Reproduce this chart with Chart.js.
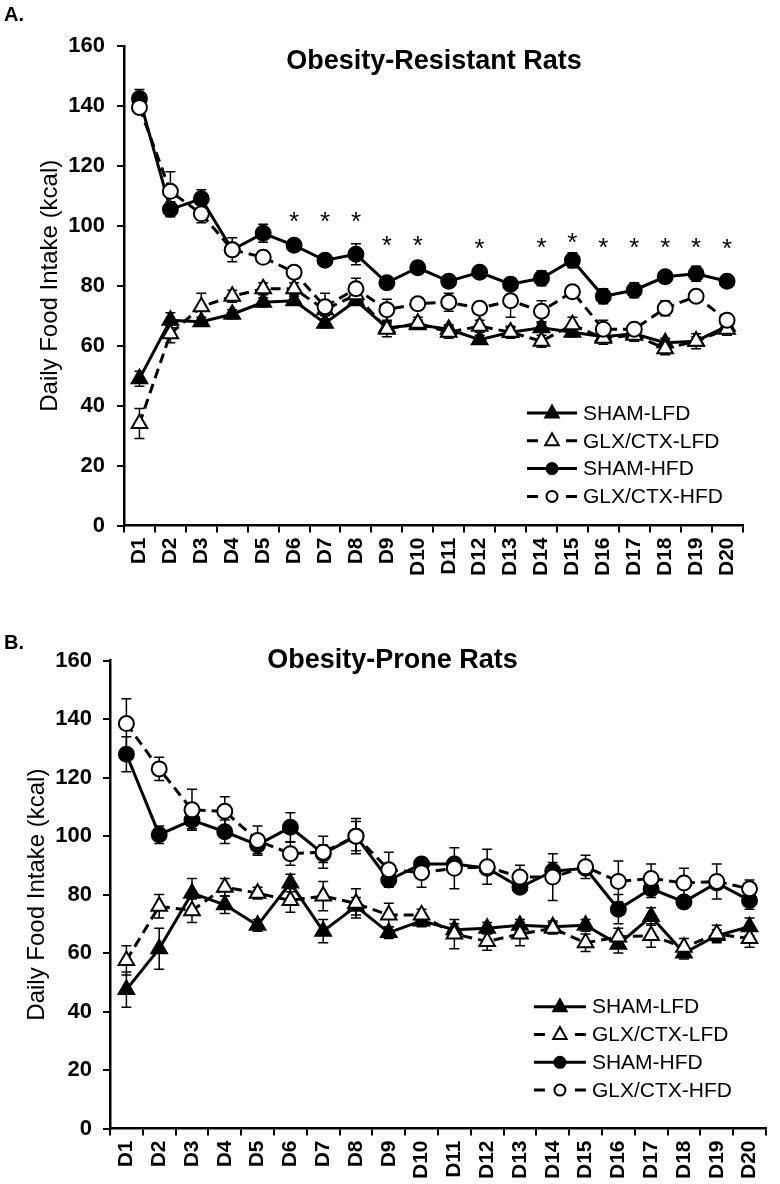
<!DOCTYPE html>
<html><head><meta charset="utf-8">
<script src="https://cdn.jsdelivr.net/npm/chart.js@4.4.1/dist/chart.umd.min.js"></script>
<style>
html,body{margin:0;padding:0;background:#fff;}
#wrap{position:relative;width:780px;height:1184px;overflow:hidden;background:#fff;}
.panel{position:absolute;left:0;width:780px;height:592px;}
</style></head><body>
<div id="wrap">
<div class="panel" style="top:0"><canvas id="cA" width="780" height="592"></canvas></div>
<div class="panel" style="top:592px"><canvas id="cB" width="780" height="592"></canvas></div>
</div>
<script>
const days = ['D1','D2','D3','D4','D5','D6','D7','D8','D9','D10','D11','D12','D13','D14','D15','D16','D17','D18','D19','D20'];
const seriesNames = ['SHAM-LFD','GLX/CTX-LFD','SHAM-HFD','GLX/CTX-HFD'];
const yTicks = {min:0, max:160, step:20};

// Panel A: Obesity-Resistant Rats
const A_shamLFD = [49, 68.5, 68, 70.5, 74.5, 75, 67.5, 75, 66, 67, 65.5, 62, 64.5, 66, 64.5, 63, 64, 61, 61.5, 66.5];
const A_glxLFD  = [34, 64, 73, 76.5, 79, 79, 72, 77, 65.5, 67.5, 64.5, 66.5, 64.5, 61.5, 67, 62.5, 63.5, 59, 61.5, 65.5];
const A_shamHFD = [142.5, 105.5, 109, 92, 97.5, 93.5, 88.5, 90.5, 81, 86, 81.5, 84.5, 80.5, 82.5, 88.5, 76.5, 78.5, 83, 84, 81.5];
const A_glxHFD  = [139.5, 111.5, 104, 92, 89.5, 84.5, 73, 79, 72, 74, 74.5, 72.5, 75, 71.5, 78, 65.5, 65.5, 72.5, 76.5, 68.5];
const A_shamLFD_err = [2.5, 2.5, 1.5, 1.5, 1.5, 1.5, 1.5, 1.5, 1.5, 1.5, 1.5, 1.5, 1.5, 1.5, 1.5, 1.5, 1.5, 1.5, 1.5, 1.5];
const A_glxLFD_err  = [5, 3, 4.5, 2, 2, 2, 2, 2, 2.5, 2, 2, 2, 2, 2, 2.5, 2, 2, 2, 2.5, 2];
const A_shamHFD_err = [3, 2.5, 3, 2, 3, 2, 2, 3.5, 2, 2, 2, 2, 2, 2.5, 2.5, 2.5, 2.5, 2, 2.5, 2];
const A_glxHFD_err  = [2, 6.5, 3, 4, 2, 2, 4.5, 3.5, 3.5, 2, 3, 2, 5.5, 3.5, 2, 3, 2, 2.5, 2, 2];
const A_sigDays = ['D6','D7','D8','D9','D10','D12','D14','D15','D16','D17','D18','D19','D20'];
const A_sigVals = [103.5, 103.5, 103.5, 95.5, 95.5, 94.5, 95, 96.5, 95, 95, 95, 95, 94.5];

// Panel B: Obesity-Prone Rats
const B_shamLFD = [47.5, 61.5, 80.5, 76.5, 69.5, 84, 67.5, 76, 67, 71, 68, 68.5, 69.5, 69, 69.5, 63, 72.5, 60, 66, 69];
const B_glxLFD  = [57.5, 76, 74.5, 82.5, 80.5, 78, 79.5, 77, 73, 73, 66.5, 64, 66.5, 68.5, 63.5, 65.5, 66, 62, 66.5, 65];
const B_shamHFD = [128, 100.5, 105.5, 101.5, 97, 103, 94, 100, 85, 90.5, 90.5, 89, 82.5, 88, 89, 75, 82, 77.5, 84, 78];
const B_glxHFD  = [138.5, 123, 109, 108.5, 98.5, 94, 94.5, 100, 88.5, 87.5, 89, 89.5, 86, 86, 89.5, 84.5, 85.5, 84, 84.5, 82];
const B_shamLFD_err = [6, 7, 5, 3, 2, 3, 4, 3, 2, 2, 2, 2, 2, 2, 2, 3, 3, 2, 2, 3];
const B_glxLFD_err  = [5, 4, 4, 3, 2, 4, 5, 5, 4, 2, 5, 3, 4, 2, 3, 3, 4, 3, 3, 3];
const B_shamHFD_err = [6, 3, 3, 4, 3, 5, 3, 5, 2, 2, 2, 2, 2, 3, 2, 5, 3, 2, 2, 3];
const B_glxHFD_err  = [8.5, 4, 7, 5, 5, 4, 5.5, 6, 6, 5, 7, 6, 4, 8, 4, 7, 5, 5, 6, 3];

const FF = "'Liberation Sans', Arial, Helvetica, sans-serif";
const DASH = [10, 6];

const styles = [
  {pointStyle:'triangle', fill:'#000', dash:[], radius:9, order:3},
  {pointStyle:'triangle', fill:'#fff', dash:DASH, radius:9, order:2},
  {pointStyle:'circle', fill:'#000', dash:[], radius:7.5, order:1},
  {pointStyle:'circle', fill:'#fff', dash:DASH, radius:7.5, order:0}
];

function makeDatasets(vals, errs) {
  return vals.map((v, i) => ({
    label: seriesNames[i],
    data: v,
    errors: errs[i],
    borderColor: '#000',
    borderWidth: 3,
    borderDash: styles[i].dash,
    pointStyle: styles[i].pointStyle,
    pointRadius: styles[i].radius,
    pointHoverRadius: styles[i].radius,
    pointBackgroundColor: styles[i].fill,
    pointBorderColor: '#000',
    pointBorderWidth: 2,
    fill: false,
    tension: 0,
    order: styles[i].order
  }));
}

function drawMarker(ctx, style, fill, x, y, r) {
  ctx.save();
  ctx.setLineDash([]);
  ctx.fillStyle = fill;
  ctx.strokeStyle = '#000';
  ctx.lineWidth = 2;
  ctx.beginPath();
  if (style === 'triangle') {
    ctx.moveTo(x, y - r);
    ctx.lineTo(x + r * 0.9, y + r * 0.6);
    ctx.lineTo(x - r * 0.9, y + r * 0.6);
    ctx.closePath();
  } else {
    ctx.arc(x, y, r, 0, Math.PI * 2);
  }
  ctx.fill();
  ctx.stroke();
  ctx.restore();
}

const extras = {
  id: 'extras',
  beforeDatasetsDraw(chart) {
    const ctx = chart.ctx, ys = chart.scales.y;
    ctx.save();
    ctx.strokeStyle = '#000';
    ctx.lineWidth = 1.5;
    chart.data.datasets.forEach((d, i) => {
      const meta = chart.getDatasetMeta(i);
      meta.data.forEach((pt, j) => {
        const e = d.errors[j];
        if (!e) return;
        const yt = ys.getPixelForValue(d.data[j] + e);
        const yb = ys.getPixelForValue(d.data[j] - e);
        ctx.beginPath();
        ctx.moveTo(pt.x, yt); ctx.lineTo(pt.x, yb);
        ctx.moveTo(pt.x - 5, yt); ctx.lineTo(pt.x + 5, yt);
        ctx.moveTo(pt.x - 5, yb); ctx.lineTo(pt.x + 5, yb);
        ctx.stroke();
      });
    });
    ctx.restore();
  },
  afterDraw(chart) {
    const o = chart.options.plugins.extras;
    const ctx = chart.ctx, ca = chart.chartArea;
    ctx.save();
    ctx.fillStyle = '#000';
    ctx.font = 'bold 20px ' + FF;
    ctx.textAlign = 'left';
    ctx.textBaseline = 'alphabetic';
    ctx.fillText(o.letter, o.letterX, o.letterY);
    ctx.font = 'bold 27px ' + FF;
    ctx.textAlign = 'center';
    ctx.fillText(o.title, o.titleX, o.titleY);
    if (o.sigDays) {
      ctx.font = '26px ' + FF;
      o.sigDays.forEach((d, k) => {
        const x = chart.scales.x.getPixelForValue(days.indexOf(d));
        const y = chart.scales.y.getPixelForValue(o.sigVals[k]);
        ctx.fillText('*', x, y + 0.58 * 26);
      });
    }
    const lg = o.legend;
    chart.data.datasets.forEach((d, i) => {
      const x0 = ca.right + lg.x;
      const y = ca.bottom + lg.y + i * lg.dy;
      ctx.save();
      ctx.strokeStyle = '#000';
      ctx.lineWidth = 3;
      ctx.beginPath();
      if (d.borderDash && d.borderDash.length) {
        ctx.moveTo(x0, y); ctx.lineTo(x0 + 11, y);
        ctx.moveTo(x0 + lg.w - 11, y); ctx.lineTo(x0 + lg.w, y);
      } else {
        ctx.moveTo(x0, y); ctx.lineTo(x0 + lg.w, y);
      }
      ctx.stroke();
      ctx.restore();
      drawMarker(ctx, d.pointStyle, d.pointBackgroundColor, x0 + lg.w / 2, y, d.pointStyle === 'triangle' ? 7.5 : 5.5);
      ctx.fillStyle = '#000';
      ctx.font = '21px ' + FF;
      ctx.textAlign = 'left';
      ctx.textBaseline = 'middle';
      ctx.fillText(d.label, x0 + lg.w + 6, y + 1);
    });
    ctx.restore();
  }
};

function makeChart(id, datasets, cfg) {
  return new Chart(document.getElementById(id), {
    type: 'line',
    data: {labels: days, datasets: datasets},
    plugins: [extras],
    options: {
      responsive: false,
      animation: false,
      events: [],
      layout: {padding: {top: cfg.padTop, right: cfg.padRight, left: 0, bottom: 0}},
      plugins: {
        legend: {display: false},
        tooltip: {enabled: false},
        title: {display: false},
        extras: cfg.extras
      },
      scales: {
        x: {
          type: 'category',
          offset: true,
          grid: {offset: true, drawOnChartArea: false, drawTicks: true, tickLength: 7, color: '#000', lineWidth: 2},
          border: {display: true, color: '#000', width: 2.5},
          ticks: {autoSkip: false, minRotation: 90, maxRotation: 90, color: '#000', padding: 5,
                  font: {family: FF, size: 21, weight: 'bold'}},
          afterFit: s => { s.height = cfg.xHeight; }
        },
        y: {
          min: yTicks.min, max: yTicks.max,
          grid: {drawOnChartArea: false, drawTicks: true, tickLength: 7, color: '#000', lineWidth: 2},
          border: {display: true, color: '#000', width: 2.5},
          ticks: {stepSize: yTicks.step, color: '#000', padding: cfg.yTickPad,
                  font: {family: FF, size: 22, weight: 'bold'}},
          title: {display: true, text: 'Daily Food Intake (kcal)', color: '#000',
                  font: {family: FF, size: 24, weight: 'normal', lineHeight: 1.2},
                  padding: {top: cfg.yTitlePad, bottom: 0}},
          afterFit: s => { s.width = cfg.yWidth; }
        }
      }
    }
  });
}

makeChart('cA',
  makeDatasets([A_shamLFD, A_glxLFD, A_shamHFD, A_glxHFD], [A_shamLFD_err, A_glxLFD_err, A_shamHFD_err, A_glxHFD_err]),
  {padTop: 46, padRight: 37.5, xHeight: 66.5, yWidth: 124, yTickPad: 12, yTitlePad: 35.5,
   extras: {letter: 'A.', letterX: 4, letterY: 21, title: 'Obesity-Resistant Rats', titleX: 434, titleY: 69,
            sigDays: A_sigDays, sigVals: A_sigVals,
            legend: {x: -215.5, y: -112.5, dy: 27.8, w: 50}}});

makeChart('cB',
  makeDatasets([B_shamLFD, B_glxLFD, B_shamHFD, B_glxHFD], [B_shamLFD_err, B_glxLFD_err, B_shamHFD_err, B_glxHFD_err]),
  {padTop: 68.7, padRight: 3, xHeight: 55.5, yWidth: 110, yTickPad: 11, yTitlePad: 22.5,
   extras: {letter: 'B.', letterX: 4, letterY: 57, title: 'Obesity-Prone Rats', titleX: 392.5, titleY: 76,
            sigDays: null, sigVals: null,
            legend: {x: -232, y: -121.8, dy: 27.8, w: 52}}});
</script>
</body></html>
